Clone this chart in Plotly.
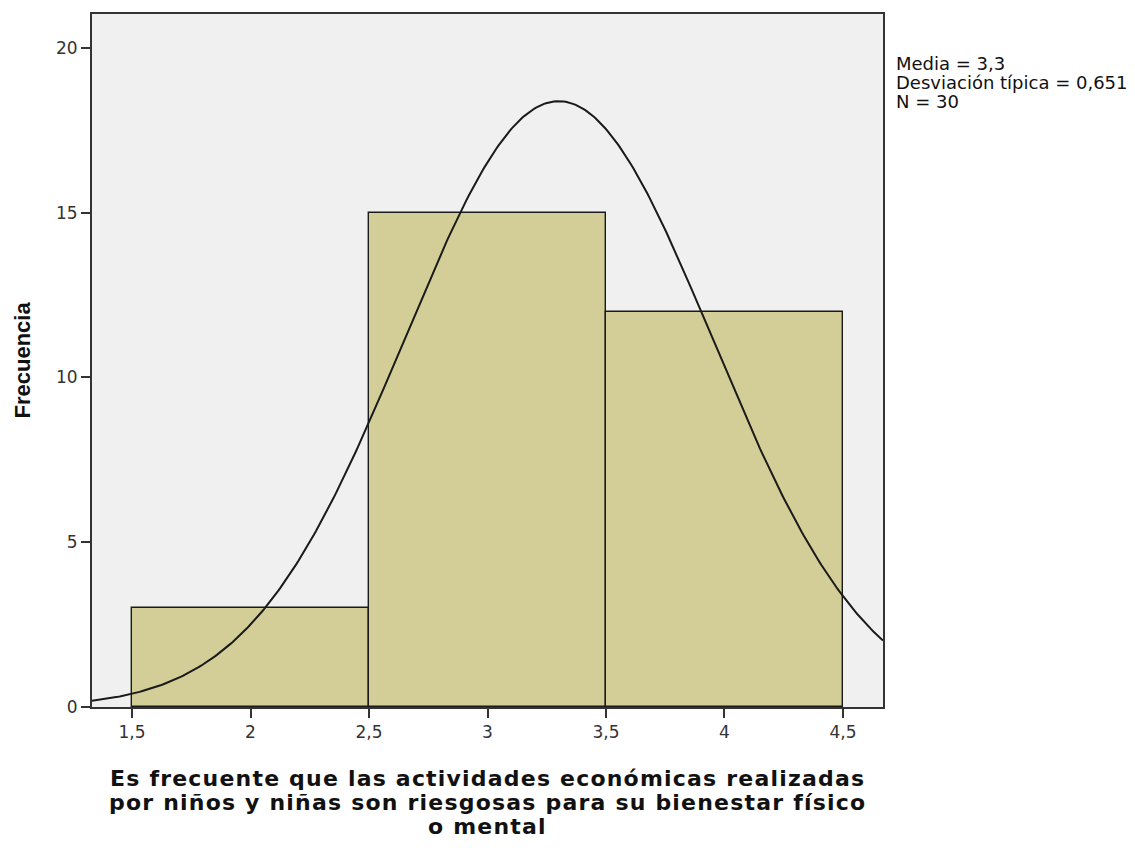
import numpy as np
import plotly.graph_objects as go

bin_centers = [2, 3, 4]
frequencies = [3, 15, 12]
bin_width = 1.0
mean_val = 3.3
sd_val = 0.651
n_val = 30

x_tick_vals = [1.5, 2, 2.5, 3, 3.5, 4, 4.5]
x_tick_text = ["1,5", "2", "2,5", "3", "3,5", "4", "4,5"]
y_tick_vals = [0, 5, 10, 15, 20]
x_title_lines = ["Es frecuente que las actividades económicas realizadas",
                 "por niños y niñas son riesgosas para su bienestar físico",
                 "o mental"]
y_title = "Frecuencia"
stats_lines = ["Media = 3,3", "Desviación típica = 0,651", "N = 30"]

xr = [1.331, 4.669]
xs = np.linspace(xr[0], xr[1], 400)
ys = n_val * bin_width * np.exp(-0.5 * ((xs - mean_val) / sd_val) ** 2) / (sd_val * np.sqrt(2 * np.pi))

fig = go.Figure()
fig.add_trace(go.Bar(x=bin_centers, y=frequencies, width=bin_width,
                     marker=dict(color="#D3CE98", line=dict(color="#1a1a1a", width=1.4)),
                     hoverinfo="skip"))
fig.add_trace(go.Scatter(x=xs, y=ys, mode="lines", line=dict(color="#1a1a1a", width=2),
                         hoverinfo="skip"))

fig.update_layout(
    width=1135, height=848,
    margin=dict(l=84, r=260, t=4, b=149),
    paper_bgcolor="white", plot_bgcolor="#F0F0F0",
    showlegend=False, separators=",.",
    font=dict(family="DejaVu Sans, sans-serif", color="#222"),
    bargap=0,
)
fig.update_xaxes(range=xr, tickvals=x_tick_vals, ticktext=x_tick_text,
                 ticks="outside", ticklen=9, tickwidth=2, tickcolor="#333",
                 showline=True, linecolor="#333", linewidth=2, mirror=True,
                 showgrid=False, zeroline=False,
                 tickfont=dict(size=17, color="#333", family="DejaVu Sans, sans-serif"))
fig.update_yaxes(range=[0, 21.03], tickvals=y_tick_vals,
                 ticks="outside", ticklen=9, tickwidth=2, tickcolor="#333",
                 showline=True, linecolor="#333", linewidth=2, mirror=True,
                 showgrid=False, zeroline=False,
                 tickfont=dict(size=17, color="#333", family="DejaVu Sans, sans-serif"))

# x-axis title lines
for i, line in enumerate(x_title_lines):
    fig.add_annotation(x=0.5, y=0, xref="paper", yref="paper", xanchor="center", yanchor="middle",
                       yshift=-71 - 24 * i,
                       text='<span style="letter-spacing:1.2px">' + line + '</span>',
                       showarrow=False,
                       font=dict(size=22, color="#111", family="DejaVu Sans, sans-serif", weight="bold"))

# y-axis title
fig.add_annotation(x=0, y=0.5, xref="paper", yref="paper", xanchor="center", yanchor="middle",
                   xshift=-70, text=y_title, textangle=-90, showarrow=False,
                   font=dict(size=22, color="#111", family="Liberation Sans, Arial, sans-serif", weight="bold"))

# statistics box text
for i, line in enumerate(stats_lines):
    fig.add_annotation(x=1, y=1, xref="paper", yref="paper", xanchor="left", yanchor="middle",
                       xshift=11, yshift=-49 - 19 * i, text=line, showarrow=False, align="left",
                       font=dict(size=18, color="#111", family="DejaVu Sans, sans-serif"))

fig.write_html("out.html")
